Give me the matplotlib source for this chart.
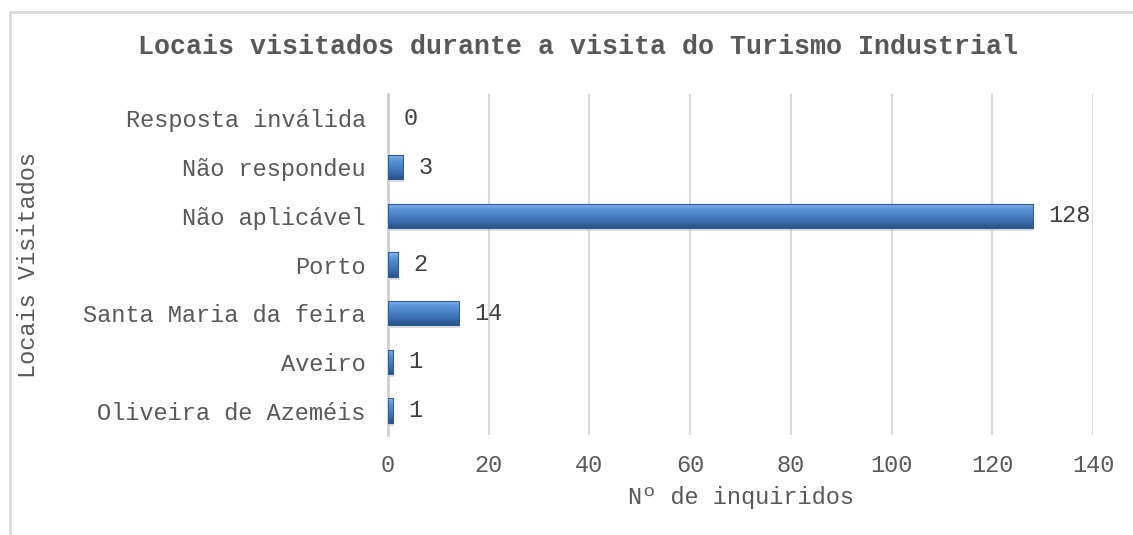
import matplotlib.pyplot as plt
import numpy as np
from matplotlib.patches import Rectangle
from matplotlib.colors import LinearSegmentedColormap

# data, top to bottom as in the chart
locais = ['Resposta inválida', 'Não respondeu', 'Não aplicável', 'Porto',
          'Santa Maria da feira', 'Aveiro', 'Oliveira de Azeméis']
inquiridos = [0, 3, 128, 2, 14, 1, 1]
xticks = [0, 20, 40, 60, 80, 100, 120, 140]

plt.rcParams['font.family'] = ['Liberation Mono', 'DejaVu Sans Mono']
txt = '#595959'

fig = plt.figure(figsize=(11.33, 5.35), dpi=100)
ax = fig.add_axes([0.3425, 0.1869, 0.6222, 0.6374])

# outer chart border
fig.patches.append(Rectangle((10 / 1133, -0.1), 1.2, 1 - 12 / 535 + 0.1,
                             transform=fig.transFigure, fill=False,
                             edgecolor='#d9d9d9', lw=2, zorder=0))

y = np.arange(len(locais))
h = 0.5
bars = ax.barh(y, inquiridos, height=h, color='#4a7fc1', zorder=3)
ax.set_ylim(len(locais) - 0.5, -0.5)
ax.set_xlim(0, 140)

# bevel-ish gradient on each bar
grad = LinearSegmentedColormap.from_list('bev', ['#8cb8ec', '#5a92d8', '#4a80c6', '#3b6caf', '#2a5088'])
g = np.linspace(0, 1, 64).reshape(-1, 1)
for b, v in zip(bars, inquiridos):
    if v <= 0:
        continue
    x0, y0 = b.get_x(), b.get_y()
    w, hh = b.get_width(), b.get_height()
    # soft shadow
    ax.add_patch(Rectangle((x0, y0 + hh * 0.12), w + 0.25, hh, color='#c8c8c8', alpha=0.6, zorder=2, lw=0))
    im = ax.imshow(g, cmap=grad, aspect='auto', extent=(x0, x0 + w, y0 + hh, y0), zorder=4,
                   interpolation='bicubic')
    im.set_clip_path(b)
    ax.add_patch(Rectangle((x0, y0), w, hh, fill=False, edgecolor='#2f5d9a', lw=0.8, zorder=5))
    ax.annotate(str(v), (v, y0 + hh / 2), xytext=(11, 0), textcoords='offset points',
                va='center', ha='left', fontsize=17, color='#404040')
# zero value label
for yi, v in zip(y, inquiridos):
    if v == 0:
        ax.annotate('0', (0, yi), xytext=(11, 0), textcoords='offset points',
                    va='center', ha='left', fontsize=17, color='#404040')

ax.set_xticks(xticks)
ax.set_yticks(y)
ax.set_yticklabels(locais)
ax.grid(axis='x', color='#d9d9d9', lw=1.5, zorder=0)
ax.set_axisbelow(True)
for s in ['top', 'right', 'bottom']:
    ax.spines[s].set_visible(False)
ax.spines['left'].set_color('#d0d0d0')
ax.spines['left'].set_linewidth(2)
ax.tick_params(axis='both', length=0, labelsize=17, labelcolor=txt)
ax.tick_params(axis='y', pad=16)
ax.tick_params(axis='x', pad=14)

ax.set_xlabel('Nº de inquiridos', fontsize=17, color=txt, labelpad=6)
ax.set_ylabel('Locais Visitados', fontsize=17, color=txt)
ax.yaxis.set_label_coords(-0.494, 0.5, transform=ax.transAxes)

fig.text(0.5 * (138 + 1018) / 1133, 1 - 47 / 535, 'Locais visitados durante a visita do Turismo Industrial',
         ha='center', va='center', fontsize=19.2, fontweight='bold', color=txt)

fig.savefig('out.png', dpi=100)
